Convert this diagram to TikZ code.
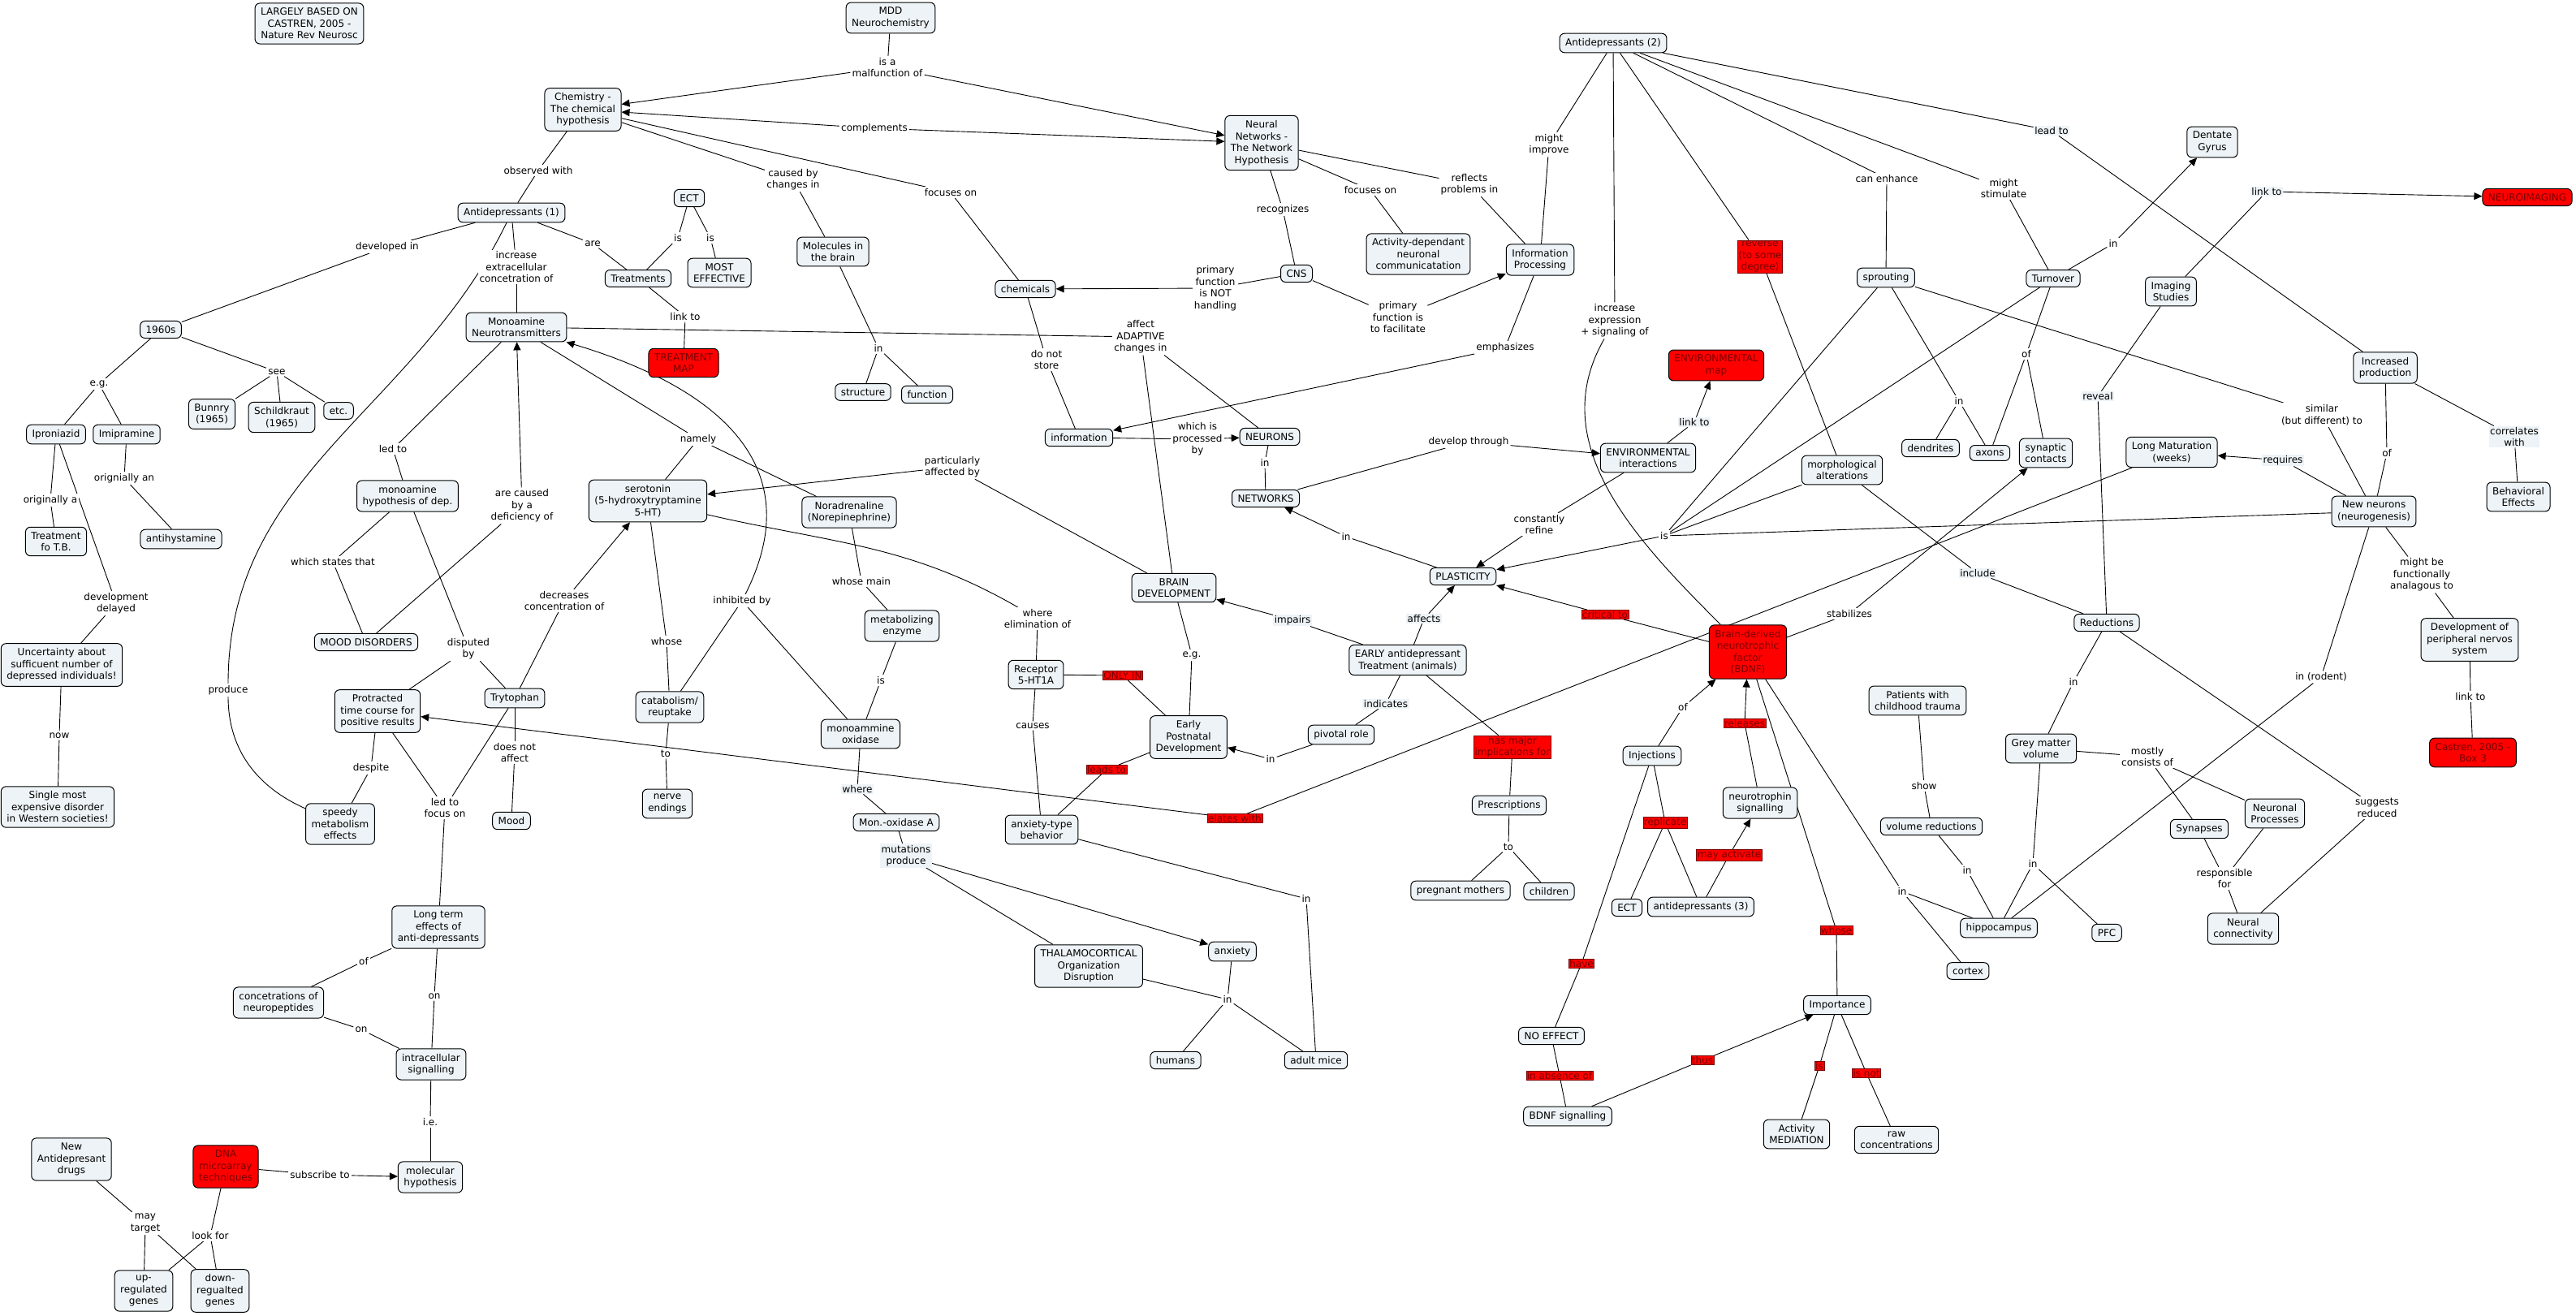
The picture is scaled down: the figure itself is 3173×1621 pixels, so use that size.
\documentclass[tikz,border=0pt]{standalone}
\usepackage{fontspec}
\setmainfont{DejaVu Sans}
\usetikzlibrary{arrows.meta,backgrounds}
\definecolor{cfill}{RGB}{237,243,246}
\definecolor{dred}{RGB}{120,0,0}
\begin{document}
\begin{tikzpicture}[x=1pt,y=-1pt,
  every node/.style={font=\fontsize{12}{14.5}\selectfont, align=center},
  cpt/.style={draw=black, line width=1pt, rounded corners=6pt, fill=cfill, inner xsep=7pt, inner ysep=6pt},
  rcpt/.style={cpt, fill=red, text=dred},
  lbl/.style={fill=white, inner sep=2pt},
  lbb/.style={fill=cfill, inner sep=1.5pt},
  rlbl/.style={fill=red, draw=dred, line width=0.6pt, text=dred, inner sep=1pt},
  ln/.style={draw=black, line width=0.9pt},
  ar/.style={ln, -{Triangle[length=10pt,width=9pt]}}
]
\useasboundingbox (0,0) rectangle (3173,1621);
\begin{scope}[on background layer]
\fill[white] (0,0) rectangle (3173,1621);
\end{scope}

% ---------------- concepts ----------------
\node[cpt] (largely) at (381,29) {LARGELY BASED ON\\CASTREN, 2005 -\\Nature Rev Neurosc};
\node[cpt] (mdd) at (1097,22) {MDD\\Neurochemistry};
\node[cpt] (chem) at (718,135) {Chemistry -\\The chemical\\hypothesis};
\node[cpt] (nn) at (1554,176) {Neural\\Networks -\\The Network\\Hypothesis};
\node[cpt] (ad1) at (630,262) {Antidepressants (1)};
\node[cpt] (ad2) at (1987,53) {Antidepressants (2)};
\node[cpt] (ect) at (849,244) {ECT};
\node[cpt] (treat) at (786,343) {Treatments};
\node[cpt] (most) at (886,336) {MOST\\EFFECTIVE};
\node[rcpt] (tmap) at (842,447) {TREATMENT\\MAP};
\node[cpt] (molec) at (1026,310) {Molecules in\\the brain};
\node[cpt] (struct) at (1063,483) {structure};
\node[cpt] (func) at (1142,486) {function};
\node[cpt] (chemicals) at (1263,356) {chemicals};
\node[cpt] (cns) at (1597,337) {CNS};
\node[cpt] (activity) at (1747,313) {Activity-dependant\\neuronal\\communicatation};
\node[cpt] (infoproc) at (1897,320) {Information\\Processing};
\node[cpt] (sprout) at (2323,342) {sprouting};
\node[cpt] (turnover) at (2529,343) {Turnover};
\node[cpt] (dentate) at (2725,175) {Dentate\\Gyrus};
\node[cpt] (imaging) at (2674,359) {Imaging\\Studies};
\node[rcpt] (neuroimg) at (3113,243) {NEUROIMAGING};
\node[cpt] (incprod) at (2938,453) {Increased\\production};
\node[rcpt] (envmap) at (2114,450) {ENVIRONMENTAL\\map};
\node[cpt] (s1960) at (198,406) {1960s};
\node[cpt] (bunnry) at (261,510) {Bunnry\\(1965)};
\node[cpt] (schild) at (347,514) {Schildkraut\\(1965)};
\node[cpt] (etc) at (417,506) {etc.};
\node[cpt] (ipron) at (69,535) {Iproniazid};
\node[cpt] (imip) at (156,535) {Imipramine};
\node[cpt] (mono) at (636,403) {Monoamine\\Neurotransmitters};
\node[cpt] (tb) at (69,667) {Treatment\\fo T.B.};
\node[cpt] (antihist) at (223,664) {antihystamine};
\node[cpt] (uncert) at (76,819) {Uncertainty about\\sufficuent number of\\depressed individuals!};
\node[cpt] (single) at (71,994) {Single most\\expensive disorder\\in Western societies!};
\node[cpt] (monohyp) at (502,611) {monoamine\\hypothesis of dep.};
\node[cpt] (sero) at (798,617) {serotonin\\(5-hydroxytryptamine\\5-HT)};
\node[cpt] (nora) at (1046,631) {Noradrenaline\\(Norepinephrine)};
\node[cpt] (mood) at (451,791) {MOOD DISORDERS};
\node[cpt] (protr) at (465,876) {Protracted\\time course for\\positive results};
\node[cpt] (tryp) at (634,860) {Trytophan};
\node[cpt] (catab) at (825,871) {catabolism/\\reuptake};
\node[cpt] (nerve) at (822,990) {nerve\\endings};
\node[cpt] (speedy) at (419,1015) {speedy\\metabolism\\effects};
\node[cpt] (moodn) at (630,1011) {Mood};
\node[cpt] (metab) at (1111,771) {metabolizing\\enzyme};
\node[cpt] (monox) at (1060,904) {monoammine\\oxidase};
\node[cpt] (monoxa) at (1104,1013) {Mon.-oxidase A};
\node[cpt] (info) at (1329,539) {information};
\node[cpt] (neurons) at (1564,538) {NEURONS};
\node[cpt] (networks) at (1559,614) {NETWORKS};
\node[cpt] (braindev) at (1446,724) {BRAIN\\DEVELOPMENT};
\node[cpt] (receptor) at (1276,831) {Receptor\\5-HT1A};
\node[cpt] (early) at (1464,908) {Early\\Postnatal\\Development};
\node[cpt] (anxbeh) at (1283,1022) {anxiety-type\\behavior};
\node[cpt] (thal) at (1341,1190) {THALAMOCORTICAL\\Organization\\Disruption};
\node[cpt] (anxiety) at (1518,1172) {anxiety};
\node[cpt] (humans) at (1448,1306) {humans};
\node[cpt] (mice) at (1621,1306) {adult mice};
\node[cpt] (envint) at (2030,564) {ENVIRONMENTAL\\interactions};
\node[cpt] (morph) at (2269,579) {morphological\\alterations};
\node[cpt] (dendr) at (2378,552) {dendrites};
\node[cpt] (axons) at (2451,558) {axons};
\node[cpt] (synap) at (2520,558) {synaptic\\contacts};
\node[cpt] (longmat) at (2675,557) {Long Maturation\\(weeks)};
\node[cpt] (behav) at (3102,612) {Behavioral\\Effects};
\node[cpt] (newn) at (2924,630) {New neurons\\(neurogenesis)};
\node[cpt] (plast) at (1802,710) {PLASTICITY};
\node[cpt] (eat) at (1734,813) {EARLY antidepressant\\Treatment (animals)};
\node[rcpt] (bdnf) at (2153,803) {Brain-derived\\neurotrophic\\factor\\(BDNF)};
\node[cpt] (pivot) at (1652,905) {pivotal role};
\node[cpt] (patients) at (2362,863) {Patients with\\childhood trauma};
\node[cpt] (inject) at (2035,931) {Injections};
\node[cpt] (neurotr) at (2168,989) {neurotrophin\\signalling};
\node[cpt] (presc) at (1859,992) {Prescriptions};
\node[cpt] (volred) at (2379,1018) {volume reductions};
\node[cpt] (reduct) at (2595,767) {Reductions};
\node[cpt] (devpns) at (3042,788) {Development of\\peripheral nervos\\system};
\node[cpt] (grey) at (2514,922) {Grey matter\\volume};
\node[rcpt] (castren) at (3046,927) {Castren, 2005 -\\Box 3};
\node[cpt] (neurproc) at (2802,1002) {Neuronal\\Processes};
\node[cpt] (synapses) at (2709,1021) {Synapses};
\node[cpt] (hippo) at (2462,1143) {hippocampus};
\node[cpt] (pfc) at (2595,1149) {PFC};
\node[cpt] (cortex) at (2424,1196) {cortex};
\node[cpt] (neurconn) at (2763,1144) {Neural\\connectivity};
\node[cpt] (pregnant) at (1799,1097) {pregnant mothers};
\node[cpt] (children) at (1908,1098) {children};
\node[cpt] (ect2) at (2004,1118) {ECT};
\node[cpt] (ad3) at (2095,1117) {antidepressants (3)};
\node[cpt] (importance) at (2263,1238) {Importance};
\node[cpt] (noeffect) at (1911,1276) {NO EFFECT};
\node[cpt] (bdnfsig) at (1931,1375) {BDNF signalling};
\node[cpt] (actmed) at (2213,1397) {Activity\\MEDIATION};
\node[cpt] (rawconc) at (2336,1404) {raw\\concentrations};
\node[cpt] (longterm) at (540,1142) {Long term\\effects of\\anti-depressants};
\node[cpt] (neuropep) at (343,1235) {concetrations of\\neuropeptides};
\node[cpt] (intrasig) at (531,1311) {intracellular\\signalling};
\node[cpt] (newdrugs) at (88,1428) {New\\Antidepresant\\drugs};
\node[rcpt] (dna) at (278,1437) {DNA\\microarray\\techniques};
\node[cpt] (molhyp) at (530,1450) {molecular\\hypothesis};
\node[cpt] (upreg) at (177,1590) {up-\\regulated\\genes};
\node[cpt] (downreg) at (271,1590) {down-\\regualted\\genes};

% ---------------- linking phrases ----------------
\node[lbl] (lMalf) at (1093,83) {is a\\malfunction of};
\node[lbl] (lCompl) at (1077,158) {complements};
\node[lbl] (lCaused) at (977,221) {caused by\\changes in};
\node[lbl] (lFocChem) at (1171,237) {focuses on};
\node[lbl] (lObs) at (663,210) {observed with};
\node[lbl] (lDevIn) at (477,304) {developed in};
\node[lbl] (lIncr) at (636,329) {increase\\extracellular\\concetration of};
\node[lbl] (lAre) at (730,300) {are};
\node[lbl] (lIsA) at (835,293) {is};
\node[lbl] (lIsB) at (875,293) {is};
\node[lbl] (lLinkT) at (844,390) {link to};
\node[lbl] (lInM) at (1082,429) {in};
\node[lbl] (lRecog) at (1580,258) {recognizes};
\node[lbl] (lNotHandl) at (1497,355) {primary\\function\\is NOT\\handling};
\node[lbl] (lFacil) at (1722,391) {primary\\function is\\to facilitate};
\node[lbl] (lFocAct) at (1688,234) {focuses on};
\node[lbl] (lReflects) at (1810,227) {reflects\\problems in};
\node[lbl] (lImprove) at (1908,178) {might\\improve};
\node[lbl] (lIncExp) at (1989,395) {increase\\expression\\+ signaling of};
\node[lbl] (lEmph) at (1854,428) {emphasizes};
\node[rlbl] (lReverse) at (2168,316) {reverse\\(to some\\degree)};
\node[lbl] (lEnhance) at (2324,220) {can enhance};
\node[lbl] (lStim) at (2468,232) {might\\stimulate};
\node[lbb] (lLeadTo) at (2527,161) {lead to};
\node[lbl] (lInDent) at (2603,300) {in};
\node[lbb] (lLinkNI) at (2792,236) {link to};
\node[lbb] (lLinkEnv) at (2087,520) {link to};
\node[lbl] (lAdaptive) at (1405,415) {affect\\ADAPTIVE\\changes in};
\node[lbl] (lDoNot) at (1289,443) {do not\\store};
\node[lbl] (lProc) at (1475,541) {which is\\processed\\by};
\node[lbl] (lInNet) at (1558,570) {in};
\node[lbl] (lEgA) at (122,473) {e.g.};
\node[lbl] (lSee) at (341,458) {see};
\node[lbl] (lOrigA) at (62,616) {originally a};
\node[lbl] (lOrigAn) at (153,589) {orignially an};
\node[lbl] (lDevDel) at (143,743) {development\\delayed};
\node[lbl] (lNow) at (73,906) {now};
\node[lbl] (lLedTo) at (484,553) {led to};
\node[lbl] (lCausedB) at (643,623) {are caused\\by a\\deficiency of};
\node[lbl] (lStates) at (410,692) {which states that};
\node[lbl] (lDisp) at (577,799) {disputed\\by};
\node[lbl] (lDecr) at (695,740) {decreases\\concentration of};
\node[lbl] (lProduce) at (281,850) {produce};
\node[lbl] (lNotAff) at (634,927) {does not\\affect};
\node[lbl] (lDespite) at (457,946) {despite};
\node[lbl] (lFocusOn) at (548,995) {led to\\focus on};
\node[lbl] (lNamely) at (860,541) {namely};
\node[lbl] (lPartic) at (1173,575) {particularly\\affected by};
\node[lbl] (lWhoseMain) at (1061,716) {whose main};
\node[lbl] (lInhib) at (914,740) {inhibited by};
\node[lbl] (lWhereElim) at (1278,762) {where\\elimination of};
\node[lbl] (lWhose) at (821,790) {whose};
\node[lbl] (lIsMet) at (1085,838) {is};
\node[rlbl] (lOnlyIn) at (1383,832) {ONLY IN};
\node[lbl] (lEgB) at (1468,807) {e.g.};
\node[lbl] (lCauses) at (1272,894) {causes};
\node[lbl] (lInEarly) at (1565,935) {in};
\node[lbl] (lToA) at (820,928) {to};
\node[rlbl] (lLeads) at (1363,948) {leads to};
\node[lbb] (lWhere) at (1056,972) {where};
\node[rlbl] (lElates) at (1521,1008) {elates with};
\node[lbb] (lMut) at (1116,1054) {mutations\\produce};
\node[lbl] (lDevThr) at (1809,544) {develop through};
\node[lbl] (lIsHub) at (2050,660) {is};
\node[lbl] (lInPl) at (1658,661) {in};
\node[lbl] (lRefine) at (1896,646) {constantly\\refine};
\node[lbb] (lImpairs) at (1592,764) {impairs};
\node[lbb] (lAffects) at (1754,762) {affects};
\node[rlbl] (lCritical) at (1977,757) {critical to};
\node[lbl] (lStab) at (2278,756) {stabilizes};
\node[lbb] (lIndic) at (1707,867) {indicates};
\node[lbl] (lOfInj) at (2073,871) {of};
\node[rlbl] (lReleases) at (2149,891) {releases};
\node[lbl] (lShow) at (2370,968) {show};
\node[rlbl] (lReplic) at (2051,1013) {replicate};
\node[lbl] (lToB) at (1858,1043) {to};
\node[rlbl] (lMayAct) at (2130,1053) {may activate};
\node[rlbl] (lHasMajor) at (1863,920) {has major\\implications for};
\node[lbl] (lOfTurn) at (2496,436) {of};
\node[lbl] (lInSprout) at (2413,494) {in};
\node[lbb] (lReveal) at (2584,488) {reveal};
\node[lbl] (lSimilar) at (2860,511) {similar\\(but different) to};
\node[lbb] (lCorr) at (3097,538) {correlates\\with};
\node[lbb] (lRequires) at (2812,567) {requires};
\node[lbl] (lOfInc) at (2940,558) {of};
\node[lbb] (lInclude) at (2436,706) {include};
\node[lbl] (lAnalog) at (2983,708) {might be\\functionally\\analagous to};
\node[lbl] (lRodent) at (2859,834) {in (rodent)};
\node[lbl] (lInRed) at (2554,840) {in};
\node[lbl] (lLinkC) at (3043,858) {link to};
\node[lbl] (lMostly) at (2645,932) {mostly\\consists of};
\node[lbl] (lSuggests) at (2928,995) {suggests\\reduced};
\node[lbl] (lResp) at (2740,1082) {responsible\\for};
\node[lbl] (lInVol) at (2423,1072) {in};
\node[lbl] (lInGrey) at (2504,1064) {in};
\node[lbl] (lInBdnf) at (2343,1098) {in};
\node[rlbl] (lWhoseBd) at (2262,1146) {whose};
\node[rlbl] (lHave) at (1948,1187) {have};
\node[rlbl] (lThus) at (2097,1306) {thus};
\node[rlbl] (lIsImp) at (2241,1313) {is};
\node[rlbl] (lIsNot) at (2299,1322) {is not};
\node[rlbl] (lAbsence) at (1921,1325) {in absence of};
\node[lbl] (lInAdult) at (1609,1107) {in};
\node[lbl] (lInAnx) at (1512,1231) {in};
\node[lbl] (lOfLT) at (448,1184) {of};
\node[lbl] (lOnLT) at (535,1227) {on};
\node[lbl] (lOnNP) at (445,1268) {on};
\node[lbl] (lIe) at (530,1382) {i.e.};
\node[lbl] (lSubscr) at (394,1447) {subscribe to};
\node[lbl] (lMayTarget) at (179,1507) {may\\target};
\node[lbl] (lLookFor) at (259,1522) {look for};

% ---------------- connectors ----------------
\begin{scope}[on background layer]
\foreach \a/\b in {mdd/lMalf, chem/lCaused, lCaused/molec, chem/lFocChem, lFocChem/chemicals,
  chem/lObs, lObs/ad1, ad1/lDevIn, lDevIn/s1960, ad1/lIncr, lIncr/mono, ad1/lAre, lAre/treat,
  ect/lIsA, lIsA/treat, ect/lIsB, lIsB/most, treat/lLinkT, lLinkT/tmap,
  molec/lInM, lInM/struct, lInM/func, nn/lRecog, lRecog/cns, cns/lNotHandl, cns/lFacil,
  nn/lFocAct, lFocAct/activity, nn/lReflects, lReflects/infoproc, ad2/lImprove, lImprove/infoproc,
  ad2/lIncExp, infoproc/lEmph, ad2/lReverse, lReverse/morph, ad2/lEnhance, lEnhance/sprout,
  ad2/lStim, lStim/turnover, ad2/lLeadTo, lLeadTo/incprod, turnover/lInDent, imaging/lLinkNI,
  envint/lLinkEnv, mono/lAdaptive, lAdaptive/braindev, lAdaptive/neurons,
  chemicals/lDoNot, lDoNot/info, info/lProc, neurons/lInNet, lInNet/networks}
  \draw[ln] (\a) -- (\b);
\foreach \a/\b in {s1960/lEgA, lEgA/ipron, lEgA/imip, s1960/lSee, lSee/bunnry, lSee/schild, lSee/etc,
  ipron/lOrigA, lOrigA/tb, imip/lOrigAn, lOrigAn/antihist, ipron/lDevDel, lDevDel/uncert,
  uncert/lNow, lNow/single, mono/lLedTo, lLedTo/monohyp, mood/lCausedB,
  monohyp/lStates, lStates/mood, monohyp/lDisp, lDisp/protr, lDisp/tryp, tryp/lDecr,
  tryp/lNotAff, lNotAff/moodn, protr/lDespite, lDespite/speedy,
  protr/lFocusOn, tryp/lFocusOn, lFocusOn/longterm, mono/lNamely, lNamely/sero, lNamely/nora,
  catab/lInhib, monox/lInhib, braindev/lPartic, nora/lWhoseMain, lWhoseMain/metab,
  lWhereElim/receptor, sero/lWhose, lWhose/catab, metab/lIsMet, lIsMet/monox,
  receptor/lOnlyIn, lOnlyIn/early, braindev/lEgB, lEgB/early, receptor/lCauses, lCauses/anxbeh,
  pivot/lInEarly, catab/lToA, lToA/nerve, early/lLeads, lLeads/anxbeh, monox/lWhere, lWhere/monoxa,
  longmat/lElates, monoxa/lMut, lMut/thal, networks/lDevThr}
  \draw[ln] (\a) -- (\b);
\foreach \a/\b in {sprout/lIsHub, turnover/lIsHub, morph/lIsHub, newn/lIsHub,
  plast/lInPl, envint/lRefine, eat/lImpairs, eat/lAffects, bdnf/lCritical, bdnf/lStab,
  eat/lIndic, lIndic/pivot, inject/lOfInj, neurotr/lReleases, patients/lShow, lShow/volred,
  inject/lReplic, lReplic/ect2, lReplic/ad3, eat/lHasMajor, lHasMajor/presc,
  presc/lToB, lToB/pregnant, lToB/children, ad3/lMayAct,
  turnover/lOfTurn, lOfTurn/axons, lOfTurn/synap, sprout/lInSprout, lInSprout/dendr, lInSprout/axons,
  imaging/lReveal, lReveal/reduct, newn/lSimilar, lSimilar/sprout, incprod/lCorr, lCorr/behav,
  newn/lRequires, incprod/lOfInc, lOfInc/newn, morph/lInclude, lInclude/reduct,
  newn/lAnalog, lAnalog/devpns, newn/lRodent, lRodent/hippo, reduct/lInRed, lInRed/grey,
  devpns/lLinkC, lLinkC/castren, grey/lMostly, lMostly/synapses, lMostly/neurproc,
  reduct/lSuggests, lSuggests/neurconn, synapses/lResp, neurproc/lResp, lResp/neurconn,
  volred/lInVol, lInVol/hippo, grey/lInGrey, lInGrey/hippo, lInGrey/pfc,
  bdnf/lInBdnf, lInBdnf/hippo, lInBdnf/cortex, bdnf/lWhoseBd, lWhoseBd/importance,
  inject/lHave, lHave/noeffect, noeffect/lAbsence, lAbsence/bdnfsig, bdnfsig/lThus,
  importance/lIsImp, lIsImp/actmed, importance/lIsNot, lIsNot/rawconc,
  anxbeh/lInAdult, lInAdult/mice, anxiety/lInAnx, thal/lInAnx, lInAnx/humans, lInAnx/mice,
  longterm/lOfLT, lOfLT/neuropep, longterm/lOnLT, lOnLT/intrasig, neuropep/lOnNP, lOnNP/intrasig,
  intrasig/lIe, lIe/molhyp, dna/lSubscr, dna/lLookFor, lLookFor/upreg, lLookFor/downreg,
  newdrugs/lMayTarget, lMayTarget/upreg, lMayTarget/downreg}
  \draw[ln] (\a) -- (\b);
% arrows
\foreach \a/\b in {lMalf/chem, lMalf/nn, lCompl/chem, lCompl/nn, lNotHandl/chemicals, lFacil/infoproc,
  lEmph/info, lInDent/dentate, lLinkNI/neuroimg, lLinkEnv/envmap, lProc/neurons, lCausedB/mono,
  lDecr/sero, lPartic/sero, lInEarly/early, lElates/protr, lMut/anxiety, lDevThr/envint,
  lIsHub/plast, lInPl/networks, lRefine/plast, lImpairs/braindev, lAffects/plast,
  lCritical/plast, lStab/synap, lOfInj/bdnf, lReleases/bdnf, lMayAct/neurotr,
  lRequires/longmat, lThus/importance, lSubscr/molhyp}
  \draw[ar] (\a) -- (\b);
% curves
\draw[ln] (ad1) to[out=244,in=90] (lProduce);
\draw[ln] (lProduce) to[out=270,in=156] (speedy);
\draw[ar] (lInhib) .. controls (1005,560) and (860,470) .. (mono);
\draw[ln] (sero) to[out=-13,in=150] (lWhereElim);
\draw[ln] (lIncExp) to[out=240,in=135] (bdnf);
\end{scope}
\end{tikzpicture}
\end{document}
